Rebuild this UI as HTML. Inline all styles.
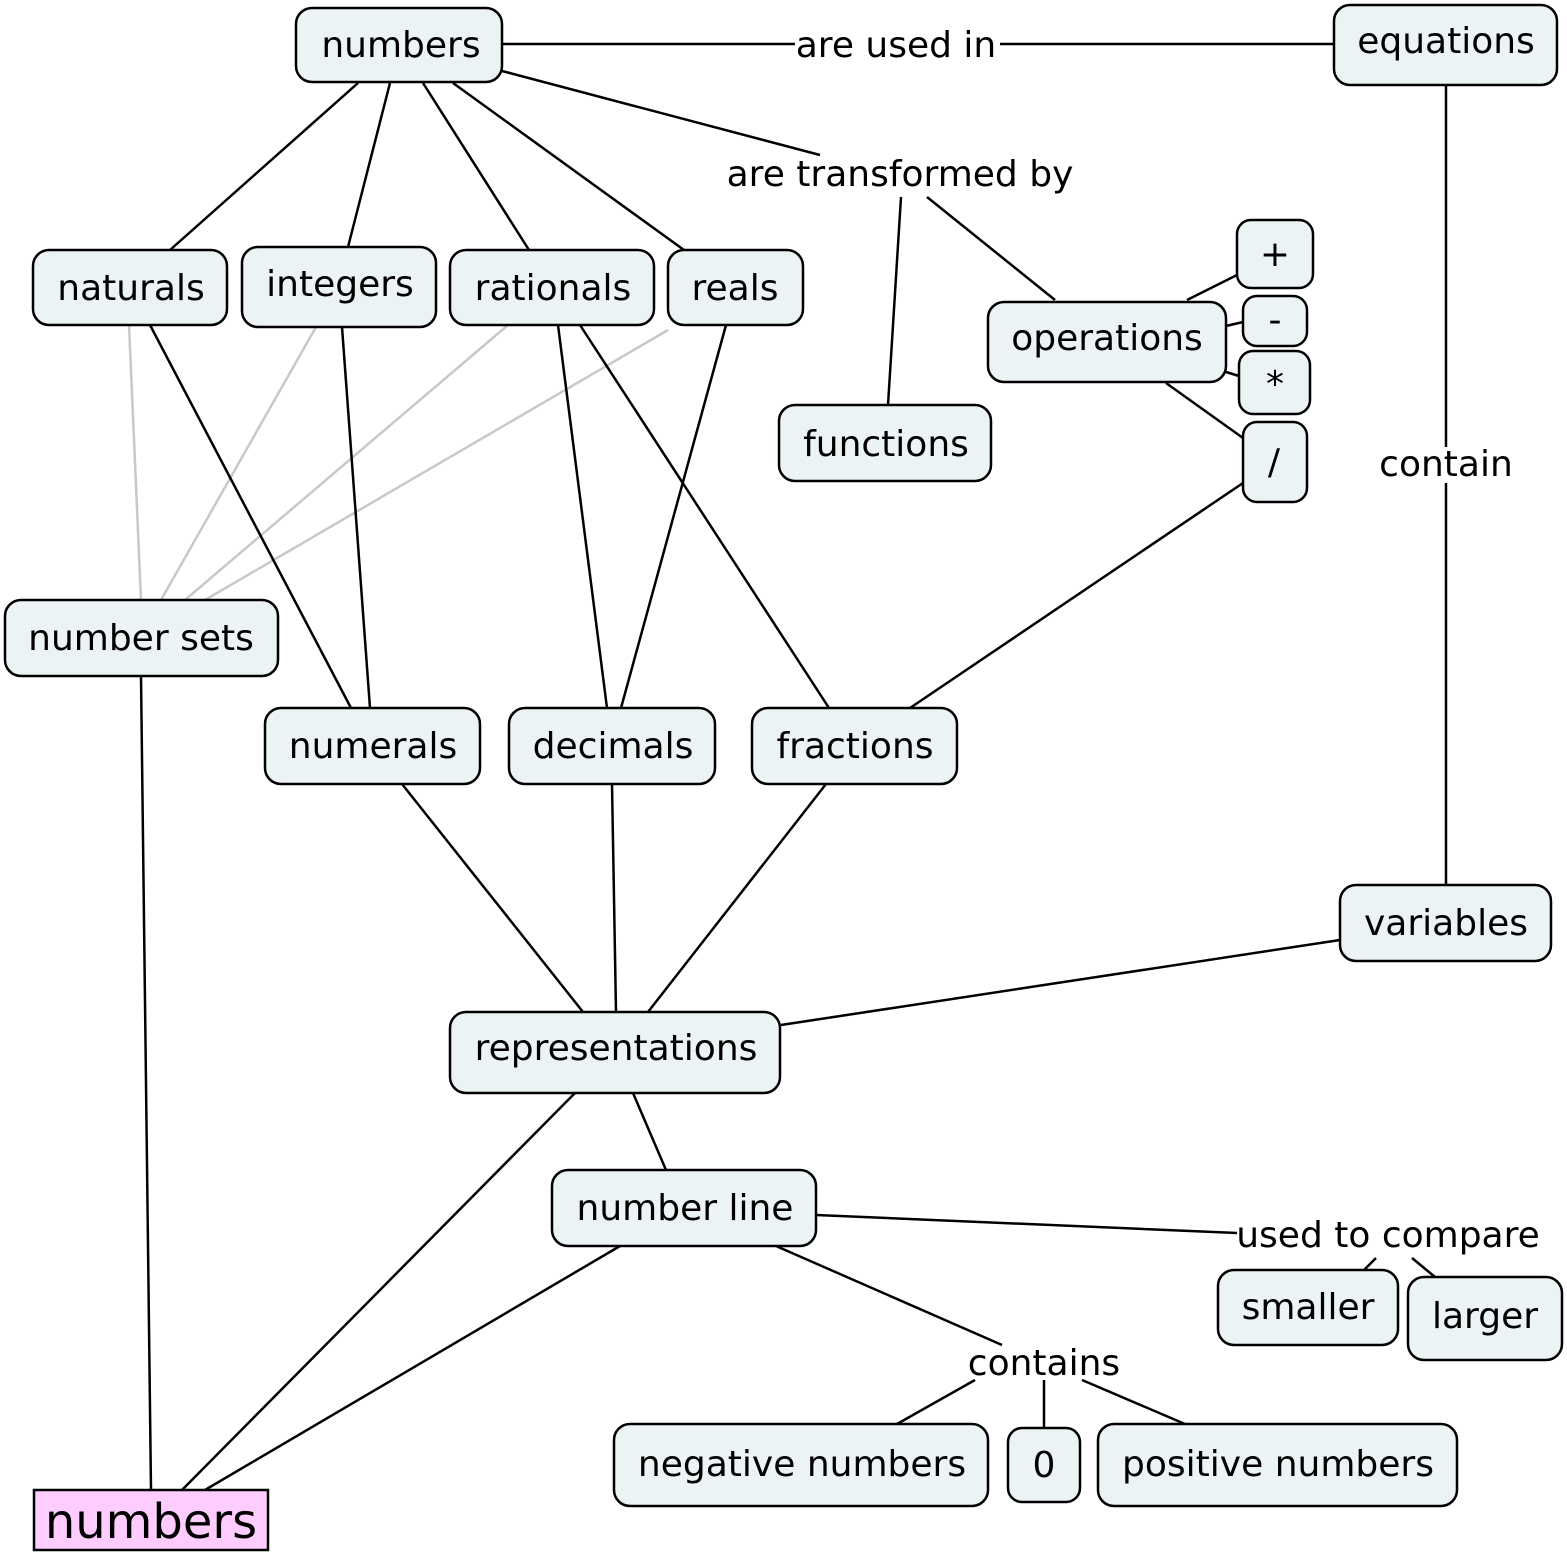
<!DOCTYPE html>
<html><head><meta charset="utf-8"><style>
html,body{margin:0;padding:0;background:#fff;}
svg{display:block;}
text{font-family:"DejaVu Sans","Liberation Sans",sans-serif;font-size:36px;fill:#000;}
.n{fill:#ebf3f4;stroke:#000;stroke-width:2.5;}
.l{stroke:#000;stroke-width:2.5;}
.g{stroke:#c8c8c8;stroke-width:2.5;}
</style></head><body>
<svg width="1567" height="1556" viewBox="0 0 1567 1556" xmlns="http://www.w3.org/2000/svg">
<g fill="none">
<line class="l" x1="502" y1="44" x2="795" y2="44"/>
<line class="l" x1="1000" y1="44" x2="1334" y2="44"/>
<line class="l" x1="502" y1="71" x2="820" y2="155"/>
<line class="l" x1="901" y1="197" x2="888" y2="405"/>
<line class="l" x1="927" y1="197" x2="1055" y2="300"/>
<line class="l" x1="358" y1="83" x2="170" y2="250"/>
<line class="l" x1="390" y1="83" x2="348" y2="247"/>
<line class="l" x1="423" y1="83" x2="529" y2="250"/>
<line class="l" x1="453" y1="83" x2="684" y2="250"/>
<line class="l" x1="1446" y1="85" x2="1446" y2="447"/>
<line class="l" x1="1446" y1="483" x2="1446" y2="885"/>
<line class="l" x1="1187" y1="300" x2="1237" y2="275"/>
<line class="l" x1="1226" y1="326" x2="1243" y2="322"/>
<line class="l" x1="1226" y1="372" x2="1239" y2="376"/>
<line class="l" x1="1166" y1="383" x2="1243" y2="438"/>
<line class="l" x1="1243" y1="483" x2="910" y2="708"/>
<line class="g" x1="129" y1="325" x2="141" y2="600"/>
<line class="g" x1="316" y1="327" x2="161" y2="600"/>
<line class="g" x1="508" y1="325" x2="185" y2="600"/>
<line class="g" x1="668" y1="330" x2="205" y2="600"/>
<line class="l" x1="150" y1="325" x2="351" y2="708"/>
<line class="l" x1="342" y1="327" x2="370" y2="708"/>
<line class="l" x1="558" y1="325" x2="607" y2="708"/>
<line class="l" x1="580" y1="325" x2="829" y2="708"/>
<line class="l" x1="726" y1="325" x2="621" y2="708"/>
<line class="l" x1="402" y1="784" x2="583" y2="1012"/>
<line class="l" x1="612" y1="784" x2="616" y2="1012"/>
<line class="l" x1="826" y1="784" x2="648" y2="1012"/>
<line class="l" x1="1340" y1="940" x2="781" y2="1025"/>
<line class="l" x1="141" y1="676" x2="151" y2="1490"/>
<line class="l" x1="575" y1="1093" x2="182" y2="1490"/>
<line class="l" x1="633" y1="1093" x2="666" y2="1170"/>
<line class="l" x1="620" y1="1246" x2="205" y2="1490"/>
<line class="l" x1="776" y1="1246" x2="1002" y2="1345"/>
<line class="l" x1="816" y1="1215" x2="1237" y2="1233"/>
<line class="l" x1="1376" y1="1258" x2="1364" y2="1270"/>
<line class="l" x1="1412" y1="1258" x2="1435" y2="1277"/>
<line class="l" x1="975" y1="1380" x2="897" y2="1424"/>
<line class="l" x1="1044" y1="1380" x2="1044" y2="1428"/>
<line class="l" x1="1082" y1="1380" x2="1185" y2="1424"/>
</g>
<rect class="n" x="296" y="8" width="206" height="74" rx="16"/>
<rect class="n" x="1334" y="5" width="223" height="80" rx="16"/>
<rect class="n" x="33" y="250" width="194" height="75" rx="16"/>
<rect class="n" x="242" y="247" width="194" height="80" rx="16"/>
<rect class="n" x="450" y="250" width="204" height="75" rx="16"/>
<rect class="n" x="668" y="250" width="135" height="75" rx="16"/>
<rect class="n" x="988" y="302" width="238" height="80" rx="16"/>
<rect class="n" x="1237" y="220" width="76" height="68" rx="14"/>
<rect class="n" x="1243" y="296" width="64" height="50" rx="14"/>
<rect class="n" x="1239" y="351" width="71" height="63" rx="14"/>
<rect class="n" x="1243" y="422" width="64" height="80" rx="14"/>
<rect class="n" x="779" y="405" width="212" height="76" rx="16"/>
<rect class="n" x="5" y="600" width="273" height="76" rx="16"/>
<rect class="n" x="265" y="708" width="215" height="76" rx="16"/>
<rect class="n" x="509" y="708" width="206" height="76" rx="16"/>
<rect class="n" x="752" y="708" width="205" height="76" rx="16"/>
<rect class="n" x="1340" y="885" width="211" height="76" rx="16"/>
<rect class="n" x="450" y="1012" width="330" height="81" rx="16"/>
<rect class="n" x="552" y="1170" width="264" height="76" rx="16"/>
<rect class="n" x="1218" y="1270" width="180" height="75" rx="16"/>
<rect class="n" x="1408" y="1277" width="154" height="83" rx="16"/>
<rect class="n" x="614" y="1424" width="374" height="82" rx="16"/>
<rect class="n" x="1008" y="1428" width="72" height="74" rx="14"/>
<rect class="n" x="1098" y="1424" width="359" height="82" rx="16"/>
<rect x="34" y="1490" width="234" height="60" fill="#ffccff" stroke="#000" stroke-width="2.5"/>
<g text-anchor="middle">
<text x="401" y="57">numbers</text>
<text x="1446" y="53">equations</text>
<text x="131" y="300">naturals</text>
<text x="340" y="296">integers</text>
<text x="553" y="300">rationals</text>
<text x="735" y="300">reals</text>
<text x="1107" y="350">operations</text>
<text x="1275" y="266">+</text>
<text x="1275" y="332">-</text>
<text x="1275" y="396">*</text>
<text x="1274" y="474">/</text>
<text x="886" y="456">functions</text>
<text x="141" y="650">number sets</text>
<text x="373" y="758">numerals</text>
<text x="613" y="758">decimals</text>
<text x="855" y="758">fractions</text>
<text x="1446" y="935">variables</text>
<text x="616" y="1060">representations</text>
<text x="685" y="1220">number line</text>
<text x="1308" y="1319">smaller</text>
<text x="1485" y="1328">larger</text>
<text x="802" y="1476">negative numbers</text>
<text x="1044" y="1477">0</text>
<text x="1278" y="1476">positive numbers</text>
<text x="151" y="1538" style="font-size:48px">numbers</text>
<text x="896" y="57">are used in</text>
<text x="900" y="186">are transformed by</text>
<text x="1446" y="476">contain</text>
<text x="1388" y="1247">used to compare</text>
<text x="1044" y="1375">contains</text>
</g>
</svg>
</body></html>
